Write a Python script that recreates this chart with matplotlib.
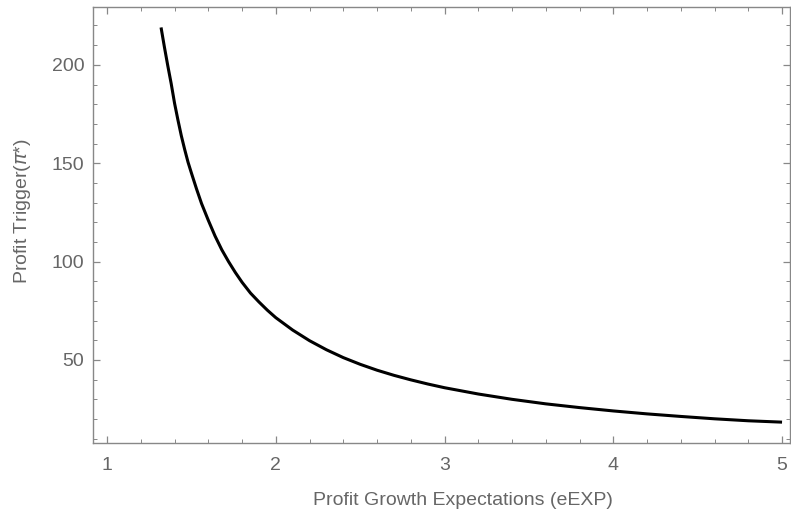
import matplotlib
matplotlib.use("Agg")
import matplotlib.pyplot as plt
from matplotlib.ticker import MultipleLocator

# values
eexp = [1.32, 1.34, 1.36, 1.38, 1.40, 1.42, 1.44, 1.46, 1.48, 1.50,
        1.53, 1.56, 1.60, 1.64, 1.68, 1.72, 1.76, 1.80, 1.85, 1.90,
        1.95, 2.00, 2.10, 2.20, 2.30, 2.40, 2.50, 2.60, 2.70, 2.80,
        2.90, 3.00, 3.20, 3.40, 3.60, 3.80, 4.00, 4.20, 4.40, 4.60,
        4.80, 5.00]
trigger = [219, 209, 199.5, 190.5, 180.5, 172, 164, 157, 150.5, 145,
           137, 129.5, 121, 113, 106, 100, 94.5, 89.5, 84, 79.5,
           75.3, 71.5, 65.2, 59.8, 55.2, 51.2, 47.8, 44.8, 42.2, 39.9,
           37.8, 35.9, 32.7, 30.0, 27.7, 25.8, 24.1, 22.6, 21.3, 20.1,
           19.1, 18.4]

x_ticks = [1, 2, 3, 4, 5]
y_ticks = [50, 100, 150, 200]

GRAY = "#666666"
SPINE = "#888888"

plt.rcParams["font.family"] = ["Liberation Sans", "DejaVu Sans"]

fig = plt.figure(figsize=(7.91, 5.21), dpi=100)
ax = fig.add_axes([0.1172, 0.1497, 0.8815, 0.8369])

ax.plot(eexp, trigger, color="black", linewidth=2.2,
        solid_capstyle="butt", solid_joinstyle="round")

ax.set_xlim(0.915, 5.047)
ax.set_ylim(7.8, 229.4)
ax.set_xticks(x_ticks)
ax.set_yticks(y_ticks)
ax.xaxis.set_minor_locator(MultipleLocator(0.2))
ax.yaxis.set_minor_locator(MultipleLocator(10))

for sp in ax.spines.values():
    sp.set_color(SPINE)
    sp.set_linewidth(1.0)

ax.tick_params(which="both", direction="in", top=True, right=True,
               colors=SPINE, labelcolor=GRAY, labelsize=14)
ax.tick_params(which="major", length=5, width=0.9)
ax.tick_params(which="minor", length=3, width=0.7)
ax.tick_params(axis="x", pad=10)
ax.tick_params(axis="y", pad=6)

ax.set_xlabel("Profit Growth Expectations (eEXP)", fontsize=14, color=GRAY)
ax.xaxis.set_label_coords(0.531, -0.112)
ax.set_ylabel(r"Profit Trigger($\pi$*)", fontsize=14, color=GRAY)
ax.yaxis.set_label_coords(-0.085, 0.532)

fig.savefig("out.png", dpi=100, facecolor="white")
